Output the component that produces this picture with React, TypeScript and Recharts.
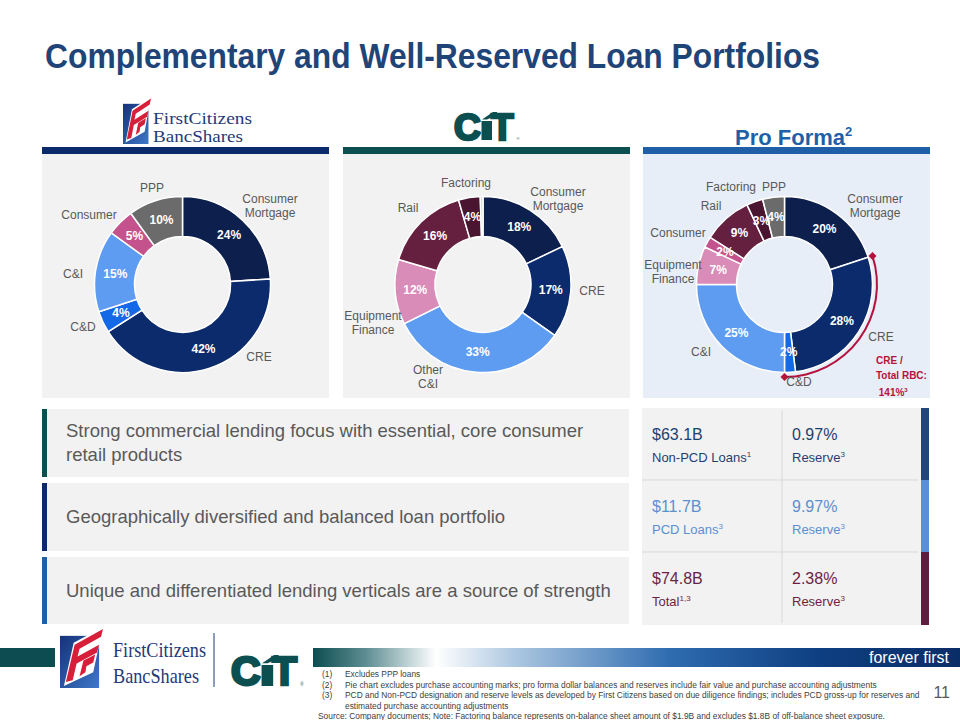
import React from 'react';
import { PieChart, Pie, Cell } from 'recharts';

const FONT = '"Liberation Sans", Arial, Helvetica, sans-serif';
const SERIF = '"Liberation Serif", "Times New Roman", serif';

// ---------- DATA ----------
const fcCategories = ['Consumer Mortgage', 'CRE', 'C&D', 'C&I', 'Consumer', 'PPP'];
const fcValues = [24, 42, 4, 15, 5, 10];
const fcColors = ['#0c1f4d', '#0b2b6c', '#1469e6', '#5e9cf2', '#c4528c', '#6b6b6b'];

const citCategories = ['Consumer Mortgage', 'CRE', 'Other C&I', 'Equipment Finance', 'Rail', 'Factoring', 'Other'];
const citValues = [18, 17, 33, 12, 16, 4, 0.5];
const citColors = ['#0c1f4d', '#0b2b6c', '#5e9cf2', '#d98cb7', '#65203f', '#4a1530', '#d4d4d4'];

const pfCategories = ['Consumer Mortgage', 'CRE', 'C&D', 'C&I', 'Equipment Finance', 'Consumer', 'Rail', 'Factoring', 'PPP'];
const pfValues = [20, 28, 2, 25, 7, 2, 9, 3, 4];
const pfColors = ['#0c1f4d', '#0b2b6c', '#1469e6', '#5e9cf2', '#d98cb7', '#c4528c', '#65203f', '#4a1530', '#6b6b6b'];

// CRE / Total RBC arc spans CRE + C&D in the pro forma donut
const rbcSegments = ['Before', 'CRE + C&D', 'After'];
const rbcValues = [20, 30, 50];

const rowTexts = [
  ['Strong commercial lending focus with essential, core consumer', 'retail products'],
  ['Geographically diversified and balanced loan portfolio'],
  ['Unique and differentiated lending verticals are a source of strength'],
];
const tableAmounts = ['$63.1B', '$11.7B', '$74.8B'];
const tableAmountLabels = [['Non-PCD Loans', '1'], ['PCD Loans', '3'], ['Total', '1,3']];
const tableReserves = ['0.97%', '9.97%', '2.38%'];
const tableReserveLabels = [['Reserve', '3'], ['Reserve', '3'], ['Reserve', '3']];

const footnotes = [
  ['(1)', 'Excludes PPP loans'],
  ['(2)', 'Pie chart excludes purchase accounting marks; pro forma dollar balances and reserves include fair value and purchase accounting adjustments'],
  ['(3)', 'PCD and Non-PCD designation and reserve levels as developed by First Citizens based on due diligence findings; includes PCD gross-up for reserves and'],
  ['', 'estimated purchase accounting adjustments'],
];
const sourceNote = 'Source: Company documents; Note: Factoring balance represents on-balance sheet amount of $1.9B and excludes $1.8B of off-balance sheet exposure.';

// ---------- LAYOUT ----------
const PANELS = [
  { x: 42, w: 287, bar: '#0b2a6b', bg: '#f2f2f2', cx: 140.5 },
  { x: 343, w: 287, bar: '#0b4f50', bg: '#f2f2f2', cx: 140 },
  { x: 643, w: 287, bar: '#1f5fa8', bg: '#e8eef7', cx: 141.5 },
];
const PANEL_TOP = 154;
const PANEL_H = 244;
const CY = 130.5;
const IR = 48;
const OR = 88;

// outside label positions (page coords, text centers)
const fcLabelPos: Record<string, [number, number]> = {
  'Consumer Mortgage': [270, 206], CRE: [259, 357], 'C&D': [83, 327], 'C&I': [73, 274], Consumer: [89, 215], PPP: [152, 188],
};
const citLabelPos: Record<string, [number, number]> = {
  'Consumer Mortgage': [558, 199], CRE: [592, 291], 'Other C&I': [428, 377], 'Equipment Finance': [373, 323], Rail: [408, 208], Factoring: [466, 183],
};
const pfLabelPos: Record<string, [number, number]> = {
  'Consumer Mortgage': [875, 206], CRE: [881, 337], 'C&D': [799, 382], 'C&I': [701, 352], 'Equipment Finance': [673, 272], Consumer: [678, 233], Rail: [711, 206], Factoring: [731, 187], PPP: [774, 187],
};

const RAD = Math.PI / 180;

const renderInside = (props: any) => {
  const { cx, cy, midAngle, innerRadius, outerRadius, value } = props;
  if (value < 1) return <g />;
  const r = (innerRadius + outerRadius) / 2;
  const x = cx + r * Math.cos(-midAngle * RAD);
  const y = cy + r * Math.sin(-midAngle * RAD);
  return (
    <text x={x} y={y} fill="#ffffff" fontSize={12} fontWeight={700} fontFamily={FONT} textAnchor="middle" dominantBaseline="central">
      {value}%
    </text>
  );
};

const renderRbcMarkers = (props: any) => {
  const { cx, cy, startAngle, endAngle, innerRadius, outerRadius, index } = props;
  if (index !== 1) return <g />;
  const r = (innerRadius + outerRadius) / 2;
  const s = 4;
  const pts = [startAngle, endAngle].map((a: number) => [cx + r * Math.cos(-a * RAD), cy + r * Math.sin(-a * RAD)]);
  return (
    <g>
      {pts.map(([x, y], i) => (
        <polygon key={i} points={`${x},${y - s} ${x + s},${y} ${x},${y + s} ${x - s},${y}`} fill="#b5123e" />
      ))}
    </g>
  );
};

function Donut({ cats, vals, cols, cx, extra }: any) {
  const data = cats.map((c: string, i: number) => ({ name: c, value: vals[i] }));
  return (
    <PieChart width={287} height={PANEL_H} margin={{ top: 0, right: 0, bottom: 0, left: 0 }}>
      <Pie
        data={data}
        dataKey="value"
        cx={cx}
        cy={CY}
        innerRadius={IR}
        outerRadius={OR}
        startAngle={90}
        endAngle={-270}
        stroke="#ffffff"
        strokeWidth={1.5}
        isAnimationActive={false}
        label={renderInside}
        labelLine={false}
      >
        {data.map((_: any, i: number) => (
          <Cell key={i} fill={cols[i]} />
        ))}
      </Pie>
      {extra ? (
        <Pie
          data={rbcSegments.map((c, i) => ({ name: c, value: rbcValues[i] }))}
          dataKey="value"
          cx={cx}
          cy={CY}
          innerRadius={91.5}
          outerRadius={93.5}
          startAngle={90}
          endAngle={-270}
          stroke="none"
          isAnimationActive={false}
          label={renderRbcMarkers}
          labelLine={false}
        >
          {rbcSegments.map((_, i) => (
            <Cell key={i} fill={i === 1 ? '#b5123e' : 'transparent'} />
          ))}
        </Pie>
      ) : null}
    </PieChart>
  );
}

function OuterLabels({ pos }: { pos: Record<string, [number, number]> }) {
  return (
    <>
      {Object.keys(pos).map((k) => {
        const [x, y] = pos[k];
        const parts = k === 'Consumer Mortgage' ? ['Consumer', 'Mortgage'] : k === 'Equipment Finance' ? ['Equipment', 'Finance'] : k === 'Other C&I' ? ['Other', 'C&I'] : [k];
        return (
          <div
            key={k}
            style={{
              position: 'absolute', left: x, top: y, transform: 'translate(-50%, -50%)', textAlign: 'center',
              fontFamily: FONT, fontSize: 12, lineHeight: '14px', color: '#595959', whiteSpace: 'nowrap',
            }}
          >
            {parts.map((p, i) => (
              <div key={i}>{p}</div>
            ))}
          </div>
        );
      })}
    </>
  );
}

function Flag({ x, y, w, h }: any) {
  return (
    <svg x={x} y={y} width={w} height={h} viewBox="0 0 44 62" preserveAspectRatio="none">
      <defs>
        <linearGradient id={`fg${x}`} x1="0" y1="0" x2="1" y2="1">
          <stop offset="0" stopColor="#16327a" />
          <stop offset="1" stopColor="#3d78c8" />
        </linearGradient>
      </defs>
      <rect x="0" y="9" width="40" height="53" fill={`url(#fg${x})`} />
      <polygon points="4,60 14,16 44,0 34,46" fill="#ffffff" />
      <polygon points="6,56 15,18 44,2 42,10 20,22 18,30 40,18 38,26 17,37 13,54" fill="#d71f3a" />
      <polygon points="20,50 24,34 36,28 34,36 27,40 26,46" fill="#d71f3a" />
    </svg>
  );
}

function CitLogo({ x, y, h }: any) {
  const k = h / 28;
  const c = '#0b4f50';
  return (
    <g transform={`translate(${x},${y}) scale(${k})`}>
      <text x={1} y={27.5} fontFamily={FONT} fontWeight={700} fontSize={37} fill={c} stroke={c} strokeWidth={2.6} strokeLinejoin="round">C</text>
      <rect x={28.5} y={9} width={10.5} height={19} fill={c} />
      <polygon points="29,7.5 40,0 44,0 44,3 34,7.5" fill={c} />
      <text x={38} y={27.5} fontFamily={FONT} fontWeight={700} fontSize={37} fill={c} stroke={c} strokeWidth={2.4} strokeLinejoin="miter">T</text>
      <text x={63.5} y={28} fontFamily={FONT} fontSize={4} fill={c}>®</text>
    </g>
  );
}

export default function App() {
  const rowBoxes = [
    [409, 477],
    [483, 551],
    [557, 624],
  ];
  const rowBarColors = ['#0b4f50', '#0b2a6b', '#1f5fa8'];
  const tableRows = [
    [408, 480],
    [480, 552],
    [552, 625],
  ];
  const tableColors = ['#23477a', '#5b8fd4', '#5e1d3f'];
  const textColors = ['#1f3f70', '#5b8fd0', '#6b1f45'];

  return (
    <div style={{ position: 'absolute', left: 0, top: 0, width: 960, height: 720, background: '#ffffff', overflow: 'hidden', fontFamily: FONT }}>
      {/* background svg: title, logos, bars, footer */}
      <svg width={960} height={720} style={{ position: 'absolute', left: 0, top: 0 }}>
        <defs>
          <linearGradient id="footGrad" x1="0" y1="0" x2="1" y2="0">
            <stop offset="0" stopColor="#0d4d51" />
            <stop offset="0.08" stopColor="#5b8c91" />
            <stop offset="0.19" stopColor="#ffffff" />
            <stop offset="0.32" stopColor="#a8c4df" />
            <stop offset="0.55" stopColor="#2f6cb0" />
            <stop offset="0.78" stopColor="#0e3f82" />
            <stop offset="1" stopColor="#0a2d66" />
          </linearGradient>
        </defs>
        <text x={45} y={68} fontFamily={FONT} fontWeight={700} fontSize={35} fill="#1f4478" textLength={775} lengthAdjust="spacingAndGlyphs">
          Complementary and Well-Reserved Loan Portfolios
        </text>

        {/* top logos */}
        <Flag x={123} y={97} w={28} h={47} />
        <text x={153} y={124} fontFamily={SERIF} fontSize={17} fill="#1f3a7a" textLength={99} lengthAdjust="spacingAndGlyphs">FirstCitizens</text>
        <text x={153} y={142} fontFamily={SERIF} fontSize={17} fill="#1f3a7a" textLength={90} lengthAdjust="spacingAndGlyphs">BancShares</text>
        <CitLogo x={453} y={112} h={28} />
        <text x={735} y={145} fontFamily={FONT} fontWeight={700} fontSize={22} fill="#1f5fa8">
          Pro Forma<tspan fontSize={13} dy={-9}>2</tspan>
        </text>

        {/* panel bars */}
        {PANELS.map((p, i) => (
          <rect key={i} x={p.x} y={147} width={p.w} height={7} fill={p.bar} />
        ))}

        {/* lower rows */}
        {rowBoxes.map(([t, b], i) => (
          <g key={i}>
            <rect x={42} y={t} width={587} height={b - t} fill="#f2f2f2" />
            <rect x={42} y={t} width={5} height={b - t} fill={rowBarColors[i]} />
          </g>
        ))}
        <rect x={642} y={408} width={279} height={217} fill="#f2f2f2" />
        {tableRows.map(([t, b], i) => (
          <g key={i}>
            <rect x={921} y={t} width={8} height={b - t} fill={tableColors[i]} />
            {i > 0 ? <line x1={642} x2={918} y1={t} y2={t} stroke="#d9d9d9" strokeWidth={1} /> : null}
          </g>
        ))}
        <line x1={782} x2={782} y1={410} y2={623} stroke="#d9d9d9" strokeWidth={1} />

        {/* footer */}
        <rect x={0} y={648} width={55} height={19} fill="#0d4d51" />
        <rect x={313} y={648} width={647} height={19} fill="url(#footGrad)" />
        <text x={949} y={663} textAnchor="end" fontFamily={FONT} fontSize={16} fill="#ffffff">
          forever first
        </text>
        <Flag x={60} y={627} w={43} h={61} />
        <text x={113} y={657} fontFamily={SERIF} fontSize={22} fill="#1f3a7a" textLength={93} lengthAdjust="spacingAndGlyphs">FirstCitizens</text>
        <text x={113} y={683} fontFamily={SERIF} fontSize={22} fill="#1f3a7a" textLength={86} lengthAdjust="spacingAndGlyphs">BancShares</text>
        <line x1={214} x2={214} y1={633} y2={687} stroke="#1f3a7a" strokeWidth={1} />
        <CitLogo x={230} y={655} h={31} />

        {footnotes.map(([n, t], i) => (
          <g key={i}>
            <text x={322} y={677 + i * 10.5} fontFamily={FONT} fontSize={8.4} fill="#404040">{n}</text>
            <text x={345} y={677 + i * 10.5} fontFamily={FONT} fontSize={8.4} fill="#404040">{t}</text>
          </g>
        ))}
        <text x={318} y={719} fontFamily={FONT} fontSize={8.4} fill="#404040">{sourceNote}</text>
        <text x={950} y={698} textAnchor="end" fontFamily={FONT} fontSize={16} fill="#595959">11</text>
      </svg>

      {/* panels with donuts */}
      {PANELS.map((p, i) => (
        <div key={i} style={{ position: 'absolute', left: p.x, top: PANEL_TOP, width: p.w, height: PANEL_H, background: p.bg }}>
          {i === 0 ? <Donut cats={fcCategories} vals={fcValues} cols={fcColors} cx={p.cx} /> : null}
          {i === 1 ? <Donut cats={citCategories} vals={citValues} cols={citColors} cx={p.cx} /> : null}
          {i === 2 ? <Donut cats={pfCategories} vals={pfValues} cols={pfColors} cx={p.cx} extra /> : null}
        </div>
      ))}

      <OuterLabels pos={fcLabelPos} />
      <OuterLabels pos={citLabelPos} />
      <OuterLabels pos={pfLabelPos} />

      <div style={{ position: 'absolute', left: 876, top: 353, fontFamily: FONT, fontSize: 10, fontWeight: 700, color: '#b5123e', lineHeight: '15px', whiteSpace: 'nowrap' }}>
        <div>CRE /</div>
        <div>Total RBC:</div>
        <div>&nbsp;141%<sup style={{ fontSize: 6 }}>3</sup></div>
      </div>

      {/* row texts */}
      {rowTexts.map((lines, i) => {
        const centers = [443, 517, 591];
        return (
          <div key={i} style={{ position: 'absolute', left: 66, top: centers[i], transform: 'translateY(-50%)', fontFamily: FONT, fontSize: 18.5, lineHeight: '24px', color: '#595959', whiteSpace: 'nowrap' }}>
            {lines.map((l, j) => (
              <div key={j}>{l}</div>
            ))}
          </div>
        );
      })}

      {/* table texts */}
      {tableAmounts.map((a, i) => {
        const top = [425, 497, 569][i];
        return (
          <React.Fragment key={i}>
            <div style={{ position: 'absolute', left: 652, top, color: textColors[i], fontFamily: FONT, whiteSpace: 'nowrap' }}>
              <div style={{ fontSize: 16, lineHeight: '20px' }}>{a}</div>
              <div style={{ fontSize: 13, lineHeight: '20px' }}>
                {tableAmountLabels[i][0]}
                <sup style={{ fontSize: 8 }}>{tableAmountLabels[i][1]}</sup>
              </div>
            </div>
            <div style={{ position: 'absolute', left: 792, top, color: textColors[i], fontFamily: FONT, whiteSpace: 'nowrap' }}>
              <div style={{ fontSize: 16, lineHeight: '20px' }}>{tableReserves[i]}</div>
              <div style={{ fontSize: 13, lineHeight: '20px' }}>
                {tableReserveLabels[i][0]}
                <sup style={{ fontSize: 8 }}>{tableReserveLabels[i][1]}</sup>
              </div>
            </div>
          </React.Fragment>
        );
      })}
    </div>
  );
}
